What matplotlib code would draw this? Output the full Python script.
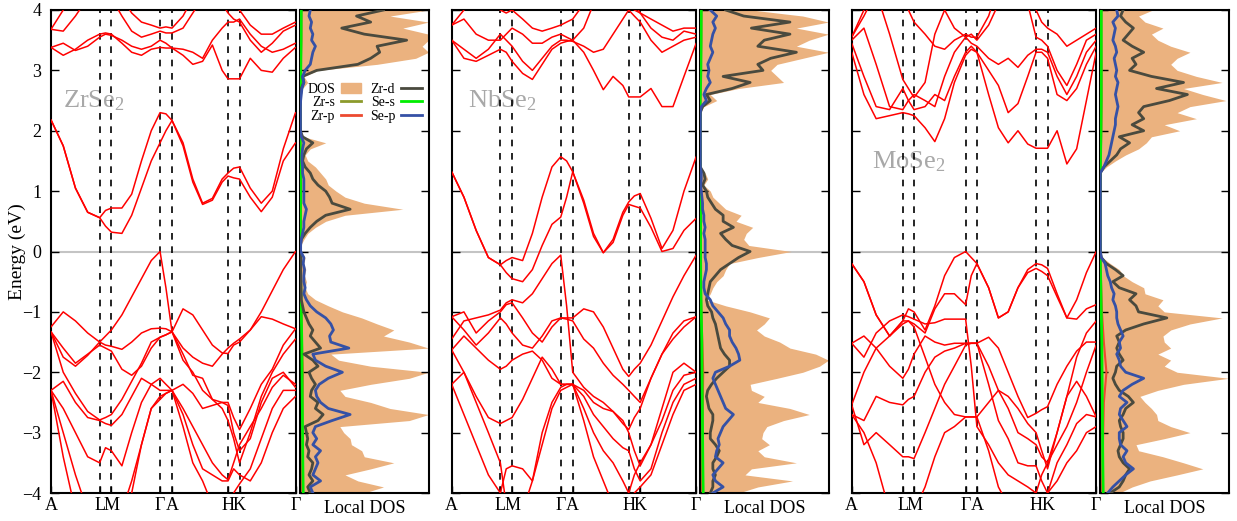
import numpy as np
import matplotlib
matplotlib.use("Agg")
import matplotlib.pyplot as plt
from matplotlib.patches import Patch
from matplotlib.lines import Line2D

plt.rcParams['font.family'] = ['Liberation Serif', 'DejaVu Serif']
plt.rcParams['mathtext.fontset'] = 'custom'
plt.rcParams['mathtext.rm'] = 'Liberation Serif'
plt.rcParams['mathtext.it'] = 'Liberation Serif'

# ---------------- k-path ----------------
k_labels = ['A', 'L', 'M', 'Γ', 'A', 'H', 'K', 'Γ']
k_nodes_zr = [0.0, 0.199, 0.247, 0.446, 0.495, 0.724, 0.771, 1.0]
k_nodes_mo = [0.0, 0.209, 0.255, 0.466, 0.512, 0.754, 0.801, 1.0]
k_grid_zr = [0.0, 0.05, 0.10, 0.15, 0.199, 0.223, 0.247, 0.29, 0.33, 0.37, 0.41, 0.446, 0.47, 0.495,
             0.54, 0.58, 0.62, 0.66, 0.70, 0.724, 0.747, 0.771, 0.815, 0.86, 0.905, 0.95, 1.0]
k_grid_mo = [0.0, 0.05, 0.10, 0.155, 0.209, 0.232, 0.255, 0.30, 0.34, 0.38, 0.42, 0.466, 0.489, 0.512,
             0.56, 0.60, 0.64, 0.68, 0.72, 0.754, 0.777, 0.801, 0.84, 0.88, 0.92, 0.96, 1.0]

# ---------------- ZrSe2 bands (eV) ----------------
zrse2_bands = [
    [3.38, 3.25, 3.35, 3.5, 3.6, 3.62, 3.6, 3.45, 3.3, 3.25, 3.35, 3.38, 3.37, 3.37, 3.25, 3.1, 3.15, 3.42, 3.0, 2.86, 2.86, 2.86, 3.2, 3.0, 2.97, 3.2, 3.38],
    [3.38, 3.45, 3.33, 3.4, 3.55, 3.6, 3.58, 3.5, 3.4, 3.35, 3.4, 3.5, 3.45, 3.37, 3.35, 3.3, 3.2, 3.5, 3.7, 3.8, 3.8, 3.85, 3.6, 3.4, 3.3, 3.35, 3.45],
    [3.68, 3.65, 3.9, 4.2, 4.3, 4.3, 4.2, 3.9, 3.65, 3.55, 3.6, 3.65, 3.62, 3.62, 3.7, 3.95, 4.2, 4.3, 4.1, 3.95, 3.85, 3.8, 3.5, 3.3, 3.45, 3.65, 3.75],
    [3.68, 4.0, 4.3, 4.5, 4.5, 4.5, 4.4, 4.2, 3.95, 3.8, 3.75, 3.7, 3.72, 3.7, 3.9, 4.2, 4.4, 4.3, 4.2, 4.1, 4.05, 4.0, 3.75, 3.6, 3.6, 3.7, 3.8],
    [2.18, 1.75, 1.05, 0.65, 0.56, 0.42, 0.32, 0.3, 0.6, 1.05, 1.5, 1.8, 2.0, 2.17, 1.75, 1.15, 0.78, 0.85, 1.15, 1.25, 1.22, 1.2, 0.9, 0.66, 0.9, 1.5, 1.8],
    [2.18, 1.75, 1.05, 0.65, 0.56, 0.68, 0.72, 0.72, 0.95, 1.5, 2.0, 2.3, 2.28, 2.17, 1.8, 1.2, 0.8, 0.88, 1.2, 1.3, 1.38, 1.4, 1.05, 0.8, 1.0, 1.7, 2.3],
    [-1.33, -1.75, -1.9, -1.72, -1.5, -1.4, -1.3, -1.05, -0.75, -0.45, -0.15, 0.0, -0.6, -1.33, -0.95, -1.05, -1.3, -1.55, -1.68, -1.69, -1.55, -1.5, -1.3, -1.0, -0.65, -0.3, 0.0],
    [-1.25, -1.0, -1.15, -1.35, -1.5, -1.55, -1.57, -1.62, -1.5, -1.35, -1.28, -1.27, -1.28, -1.33, -1.7, -2.05, -2.1, -2.45, -2.5, -2.5, -2.75, -2.95, -2.6, -2.2, -1.95, -1.55, -1.28],
    [-1.33, -2.0, -2.35, -2.65, -2.79, -2.75, -2.7, -2.45, -2.15, -1.85, -1.5, -1.42, -1.38, -1.33, -1.6, -1.75, -1.85, -1.9, -1.7, -1.6, -1.52, -1.45, -1.3, -1.08, -1.12, -1.2, -1.28],
    [-2.3, -2.15, -2.5, -2.75, -2.8, -2.85, -2.88, -2.7, -2.4, -2.1, -2.2, -2.3, -2.3, -2.3, -2.6, -2.9, -3.2, -3.5, -3.7, -3.78, -3.5, -3.2, -2.9, -2.6, -2.25, -2.05, -2.2],
    [-2.3, -2.6, -3.0, -3.4, -3.5, -3.25, -3.3, -3.55, -3.0, -2.5, -2.2, -2.1, -2.2, -2.3, -2.2, -2.35, -2.6, -2.55, -2.5, -2.55, -3.0, -3.3, -3.1, -2.5, -2.1, -2.0, -2.25],
    [-2.3, -3.4, -4.3, -4.6, -4.7, -4.7, -4.6, -4.5, -4.0, -3.2, -2.6, -2.45, -2.35, -2.3, -2.9, -3.5, -3.8, -4.2, -4.3, -4.2, -4.0, -3.85, -3.6, -3.1, -2.6, -2.3, -2.3],
    [-1.33, -1.6, -1.85, -1.7, -1.55, -1.6, -1.65, -1.95, -2.05, -1.9, -1.6, -1.42, -1.38, -1.33, -1.8, -2.0, -2.3, -2.45, -2.6, -2.8, -3.1, -3.5, -3.0, -2.4, -2.0, -1.7, -1.45],
    [-2.3, -3.0, -3.7, -4.3, -4.6, -4.6, -4.5, -4.3, -3.8, -3.2, -2.6, -2.4, -2.35, -2.3, -2.7, -3.2, -3.6, -3.7, -3.8, -3.8, -3.6, -3.7, -3.8, -3.5, -3.0, -2.6, -2.4],
]

# ---------------- NbSe2 bands (eV) ----------------
nbse2_bands = [
    [3.5, 3.2, 3.15, 3.25, 3.35, 3.3, 3.15, 2.95, 2.85, 3.1, 3.35, 3.45, 3.48, 3.5, 3.3, 3.0, 2.68, 2.9, 2.75, 2.56, 2.56, 2.56, 2.7, 2.4, 2.4, 2.9, 3.45],
    [3.5, 3.35, 3.2, 3.35, 3.6, 3.5, 3.4, 3.15, 3.0, 3.2, 3.4, 3.5, 3.5, 3.48, 3.4, 3.3, 3.35, 3.6, 3.85, 4.0, 3.9, 3.8, 3.5, 3.3, 3.4, 3.5, 3.55],
    [3.75, 3.85, 3.6, 3.5, 3.5, 3.6, 3.7, 3.6, 3.45, 3.45, 3.55, 3.6, 3.55, 3.5, 3.7, 4.1, 4.3, 4.4, 4.3, 4.2, 4.1, 3.95, 3.7, 3.55, 3.5, 3.65, 3.6],
    [3.75, 4.0, 4.3, 4.2, 4.0, 3.95, 4.0, 3.85, 3.7, 3.65, 3.7, 3.75, 3.8, 3.85, 4.1, 4.4, 4.5, 4.5, 4.3, 4.1, 4.0, 3.95, 3.85, 3.75, 3.65, 3.7, 3.7],
    [1.32, 0.9, 0.35, -0.1, -0.22, -0.35, -0.45, -0.5, -0.3, 0.1, 0.45, 0.57, 0.9, 1.32, 0.8, 0.25, -0.02, 0.15, 0.6, 0.78, 0.75, 0.72, 0.4, 0.0, 0.05, 0.35, 0.55],
    [1.32, 0.9, 0.35, -0.1, -0.22, -0.15, -0.1, -0.15, 0.3, 0.9, 1.4, 1.57, 1.5, 1.32, 0.85, 0.3, -0.02, 0.2, 0.65, 0.82, 0.92, 0.96, 0.55, 0.05, 0.35, 1.0, 1.57],
    [-1.45, -1.15, -1.1, -1.05, -0.97, -0.85, -0.8, -0.85, -0.7, -0.45, -0.2, -0.06, -0.9, -2.0, -2.25, -2.4, -2.5, -2.65, -2.85, -2.95, -2.75, -2.6, -2.1, -1.7, -1.45, -1.25, -1.08],
    [-1.08, -1.0, -1.35, -1.15, -1.0, -0.88, -0.85, -1.1, -1.35, -1.5, -1.25, -1.1, -1.1, -1.1, -0.95, -1.0, -1.25, -1.6, -1.95, -2.07, -1.95, -1.85, -1.55, -1.15, -0.75, -0.4, -0.06],
    [-1.08, -1.3, -1.55, -1.35, -1.1, -1.2, -1.35, -1.55, -1.6, -1.4, -1.15, -1.1, -1.12, -1.15, -1.45, -1.6, -1.85, -2.05, -2.2, -2.3, -2.4, -2.5, -2.1, -1.7, -1.35, -1.15, -1.08],
    [-1.63, -1.4, -1.6, -1.8, -1.95, -1.9, -1.8, -1.7, -1.65, -1.8, -2.1, -2.2, -2.2, -2.2, -2.3, -2.5, -2.6, -2.65, -2.8, -3.0, -3.3, -3.55, -3.2, -2.6, -2.0, -1.85, -2.0],
    [-2.2, -2.0, -2.4, -2.75, -2.85, -2.8, -2.75, -2.45, -2.1, -1.75, -1.95, -2.2, -2.2, -2.2, -2.6, -3.0, -3.3, -3.5, -3.8, -4.0, -3.7, -3.5, -3.2, -2.8, -2.3, -2.05, -2.0],
    [-2.2, -2.7, -3.2, -3.7, -4.0, -3.6, -3.55, -3.6, -3.8, -3.0, -2.5, -2.25, -2.2, -2.2, -2.4, -2.7, -2.9, -3.1, -3.25, -3.3, -3.6, -3.8, -3.6, -3.0, -2.5, -2.2, -2.1],
    [-1.63, -2.0, -2.5, -3.0, -3.5, -4.2, -4.4, -4.3, -3.8, -3.2, -2.6, -2.3, -2.25, -2.2, -2.8, -3.4, -3.8, -4.2, -4.3, -4.2, -4.0, -3.9, -3.7, -3.2, -2.7, -2.3, -2.2],
]

# ---------------- MoSe2 bands (eV) ----------------
mose2_bands = [
    [3.3, 2.6, 2.2, 2.25, 2.3, 2.28, 2.25, 2.05, 1.82, 2.2, 2.8, 3.25, 3.35, 3.3, 2.6, 2.05, 1.8, 2.0, 1.78, 1.71, 1.71, 1.71, 2.0, 1.45, 1.7, 2.5, 3.3],
    [3.45, 2.9, 2.4, 2.35, 2.7, 2.5, 2.35, 2.4, 2.6, 2.5, 2.9, 3.3, 3.4, 3.3, 3.0, 2.75, 2.3, 2.45, 2.9, 3.3, 3.3, 3.2, 2.6, 2.5, 2.7, 3.1, 3.4],
    [3.5, 3.7, 3.1, 2.4, 2.35, 2.5, 2.6, 2.5, 2.4, 2.9, 3.3, 3.55, 3.45, 3.4, 3.2, 3.1, 3.2, 3.05, 3.25, 3.35, 3.35, 3.3, 2.9, 2.6, 2.9, 3.3, 3.5],
    [3.55, 3.9, 4.3, 3.6, 2.85, 2.7, 2.55, 2.8, 3.6, 4.0, 3.7, 3.55, 3.6, 3.5, 3.75, 4.1, 4.3, 4.4, 4.1, 3.55, 3.5, 3.4, 3.0, 2.75, 3.1, 3.5, 3.6],
    [3.55, 4.0, 4.5, 4.5, 4.3, 4.0, 3.8, 3.6, 3.4, 3.35, 3.5, 3.6, 3.55, 3.55, 3.9, 4.4, 4.6, 4.6, 4.4, 4.0, 3.8, 3.7, 3.6, 3.4, 3.5, 3.6, 3.7],
    [-0.2, -0.5, -1.05, -1.4, -1.15, -0.95, -1.0, -1.3, -0.9, -0.4, -0.1, 0.0, -0.1, -0.2, -0.6, -1.1, -1.0, -0.6, -0.3, -0.2, -0.22, -0.28, -0.7, -1.1, -0.8, -0.35, 0.0],
    [-0.2, -0.5, -1.05, -1.4, -1.2, -1.15, -1.2, -1.35, -0.95, -0.7, -0.7, -0.88, -0.4, -0.2, -0.6, -1.1, -1.0, -0.6, -0.35, -0.28, -0.33, -0.4, -0.75, -1.1, -1.12, -0.95, -0.88],
    [-1.52, -1.75, -1.35, -1.15, -1.05, -1.08, -1.12, -1.2, -1.18, -1.12, -1.12, -1.12, -1.9, -2.9, -3.2, -3.5, -3.7, -3.8, -3.9, -4.0, -3.7, -3.5, -3.0, -2.4, -1.75, -1.35, -1.15],
    [-1.52, -1.4, -1.6, -1.9, -2.1, -1.95, -1.7, -1.4, -1.5, -1.55, -1.52, -1.52, -1.52, -1.52, -1.42, -1.6, -2.0, -2.4, -2.75, -2.68, -2.62, -2.57, -2.2, -1.9, -1.65, -1.5, -1.5],
    [-2.54, -2.0, -1.6, -1.4, -1.15, -1.15, -1.25, -1.75, -2.2, -2.5, -2.7, -2.74, -2.74, -2.74, -2.5, -2.3, -2.4, -2.6, -2.85, -3.0, -3.3, -3.6, -3.0, -2.4, -2.15, -2.4, -2.74],
    [-2.7, -2.8, -2.4, -2.5, -2.54, -2.45, -2.4, -2.0, -1.75, -1.65, -1.6, -1.52, -1.52, -1.52, -2.2, -2.8, -3.1, -3.5, -3.55, -3.55, -3.8, -4.0, -3.5, -3.2, -2.85, -2.7, -2.74],
    [-2.7, -3.0, -3.5, -4.3, -4.6, -4.5, -4.3, -3.9, -3.4, -3.0, -2.9, -2.74, -2.74, -2.74, -3.3, -3.9, -4.2, -4.3, -4.3, -4.2, -4.1, -4.0, -3.8, -3.5, -3.3, -3.0, -2.9],
    [-2.54, -3.2, -3.0, -3.2, -3.4, -3.4, -3.43, -3.0, -2.6, -2.2, -1.9, -1.55, -1.52, -1.52, -1.9, -2.3, -2.6, -3.0, -3.1, -3.2, -3.4, -3.5, -3.2, -2.9, -2.5, -2.0, -1.55],
]

# ---------------- DOS (energy grid -4..4 eV, 0.1 eV step) ----------------
dos_energy = np.linspace(-4.0, 4.0, 81)

zrse2_dos_total = [5.0, 6.5, 4.5, 3.5, 5.5, 7.3, 5.0, 4.8, 4.0, 3.9,
                   3.4, 3.1, 8.5, 10, 7.0, 5.5, 3.5, 3.1, 5.5, 8.5,
                   10, 5.5, 3.0, 2.4, 10, 8.5, 6.5, 7.3, 6.0, 4.8,
                   3.3, 2.2, 1.2, 0.6, 0.4, 0.5, 0.35, 0.45, 0.3, 0.4,
                   0.05,
                   0.05, 0.3, 0.6, 1.2, 2.0, 3.5, 8.0, 5.0, 3.5, 2.8,
                   2.2, 2.0, 1.6, 1.2, 0.6, 0.4, 0.8, 2.0, 0.3, 0.05,
                   0.03, 0.03, 0.03, 0.03, 0.05, 0.1, 0.2, 0.6, 0.3, 1.4,
                   6.0, 9.0, 10, 9.5, 10, 10, 8.0, 10, 7.0, 10]
zrse2_dos_d = [0.8, 0.6, 1.0, 0.7, 0.9, 1.0, 0.6, 0.7, 0.5, 0.6,
               0.5, 0.4, 1.4, 1.8, 1.2, 1.4, 0.8, 0.9, 1.2, 0.9,
               0.7, 1.4, 1.0, 0.3, 1.6, 1.2, 0.8, 1.0, 0.7, 0.5,
               0.3, 0.2, 0.1, 0.1, 0.08, 0.08, 0.06, 0.06, 0.05, 0.05,
               0.02,
               0.02, 0.1, 0.4, 0.8, 1.3, 2.0, 3.9, 2.5, 2.3, 2.0,
               1.4, 1.0, 0.8, 0.4, 0.2, 0.3, 0.5, 1.0, 0.2, 0.03,
               0.02, 0.02, 0.02, 0.02, 0.03, 0.05, 0.1, 0.3, 0.2, 1.3,
               4.5, 5.5, 6.2, 6.0, 8.3, 5.0, 3.25, 5.5, 4.4, 6.5]
zrse2_dos_p = [1.0, 0.8, 1.6, 1.0, 1.2, 1.4, 1.2, 1.6, 1.0, 1.3,
               1.0, 1.2, 2.5, 3.9, 2.2, 1.6, 1.3, 1.2, 1.5, 2.2,
               3.3, 2.0, 1.2, 1.0, 3.8, 2.4, 2.3, 2.6, 2.4, 2.0,
               1.3, 0.8, 0.5, 0.3, 0.4, 0.3, 0.3, 0.35, 0.25, 0.3,
               0.05,
               0.05, 0.1, 0.2, 0.3, 0.3, 0.4, 0.5, 0.3, 0.3, 0.3,
               0.3, 0.3, 0.2, 0.2, 0.15, 0.15, 0.2, 0.3, 0.1, 0.03,
               0.03, 0.03, 0.03, 0.03, 0.05, 0.1, 0.15, 0.3, 0.2, 0.4,
               0.8, 0.9, 1.0, 1.2, 0.9, 1.0, 0.8, 0.9, 0.7, 0.8]

nbse2_dos_total = [3.0, 4.5, 7.2, 3.5, 4.0, 7.5, 5.0, 4.5, 5.4, 4.8,
                   4.9, 5.2, 6.5, 8.5, 7.0, 4.5, 5.0, 4.0, 3.9, 6.0,
                   8.0, 9.3, 10, 9.0, 7.0, 6.2, 5.0, 4.4, 5.0, 5.4,
                   3.9, 2.0, 0.5, 0.8, 1.0, 1.3, 1.8, 2.0, 2.3, 4.5,
                   7.1,
                   3.8, 3.4, 3.6, 4.1, 2.8, 3.2, 2.0, 1.5, 1.0, 0.8,
                   0.3, 0.6, 0.4, 0.02, 0.02, 0.02, 0.02, 0.02, 0.02, 0.02,
                   0.02, 0.02, 0.02, 0.3, 1.3, 0.8, 3.0, 6.5, 6.0, 5.5,
                   6.0, 8.0, 10, 7.5, 8.5, 10, 7.5, 10, 8.0, 4.0]
nbse2_dos_d = [0.8, 1.0, 1.0, 1.2, 1.0, 1.0, 1.3, 1.5, 1.2, 0.8,
               0.8, 0.9, 1.0, 1.0, 0.7, 0.6, 0.5, 0.6, 0.9, 1.3,
               1.8, 2.3, 2.3, 1.9, 1.6, 1.5, 1.4, 1.3, 1.2, 1.0,
               0.9, 0.6, 0.5, 0.6, 0.7, 0.8, 1.2, 1.6, 2.3, 3.0,
               3.9,
               2.5, 2.0, 1.6, 2.6, 1.8, 1.8, 1.2, 0.9, 0.6, 0.5,
               0.2, 0.4, 0.3, 0.02, 0.02, 0.02, 0.02, 0.02, 0.02, 0.02,
               0.02, 0.02, 0.02, 0.2, 0.8, 0.5, 2.5, 3.9, 1.8, 4.9,
               4.5, 5.5, 7.5, 4.5, 5.0, 7.0, 4.0, 7.0, 3.4, 2.0]
nbse2_dos_p = [1.0, 1.8, 1.2, 1.0, 1.4, 1.8, 1.2, 1.3, 1.5, 1.4,
               1.6, 1.8, 2.2, 2.6, 2.0, 1.8, 1.6, 1.4, 1.2, 1.0,
               1.2, 2.3, 3.1, 3.0, 2.8, 2.5, 2.3, 2.3, 2.0, 1.8,
               1.4, 1.0, 0.8, 0.4, 0.3, 0.3, 0.4, 0.5, 0.5, 0.4,
               0.4,
               0.4, 0.4, 0.3, 0.4, 0.3, 0.3, 0.2, 0.2, 0.15, 0.1,
               0.05, 0.1, 0.1, 0.02, 0.02, 0.02, 0.02, 0.02, 0.02, 0.02,
               0.02, 0.02, 0.02, 0.1, 0.5, 0.3, 0.5, 0.8, 0.6, 0.7,
               0.6, 0.8, 1.0, 0.8, 0.9, 1.0, 1.2, 1.0, 1.3, 0.8]

mose2_dos_total = [1.5, 2.5, 3.9, 6.0, 8.0, 6.5, 4.9, 3.0, 2.8, 5.0,
                   7.0, 5.5, 4.5, 4.4, 4.0, 3.5, 3.1, 4.5, 6.5, 10,
                   6.0, 5.0, 5.5, 4.5, 5.5, 5.0, 4.9, 5.5, 7.0, 9.5,
                   5.0, 4.5, 4.9, 3.5, 3.4, 2.5, 1.8, 1.5, 0.8, 0.2,
                   0.02,
                   0.02, 0.02, 0.02, 0.02, 0.02, 0.02, 0.02, 0.02, 0.02, 0.02,
                   0.02, 0.02, 0.02, 0.5, 1.2, 2.0, 3.0, 3.6, 4.0, 6.2,
                   5.0, 7.5, 6.0, 7.0, 9.8, 8.0, 6.5, 9.5, 7.5, 6.0,
                   5.5, 6.0, 7.0, 5.5, 4.5, 4.0, 4.9, 3.5, 3.0, 4.1]
mose2_dos_d = [0.8, 1.5, 1.8, 2.0, 2.3, 1.8, 1.5, 1.4, 1.6, 1.8,
               1.8, 1.6, 1.5, 1.8, 2.0, 2.6, 2.2, 1.5, 1.2, 1.0,
               1.2, 1.3, 1.8, 1.5, 1.3, 1.5, 1.3, 2.0, 3.4, 5.2,
               3.0, 2.8, 2.3, 2.8, 1.5, 1.0, 1.8, 1.2, 0.5, 0.1,
               0.02,
               0.02, 0.02, 0.02, 0.02, 0.02, 0.02, 0.02, 0.02, 0.02, 0.02,
               0.02, 0.02, 0.02, 0.3, 0.8, 1.3, 1.6, 2.3, 1.5, 3.4,
               2.5, 3.4, 3.0, 3.4, 5.4, 6.8, 4.4, 6.5, 4.0, 2.3,
               2.8, 2.5, 3.4, 2.5, 1.8, 2.2, 2.6, 2.0, 1.6, 1.8]
mose2_dos_p = [0.6, 1.0, 1.5, 2.0, 2.6, 2.0, 1.8, 2.1, 1.6, 1.5,
               1.5, 2.1, 1.8, 1.5, 1.6, 2.1, 1.5, 1.8, 2.5, 3.4,
               2.0, 1.6, 1.5, 1.3, 1.6, 1.5, 1.8, 1.6, 1.4, 1.3,
               1.3, 1.2, 1.0, 1.1, 0.9, 0.8, 0.6, 0.5, 0.4, 0.1,
               0.02,
               0.02, 0.02, 0.02, 0.02, 0.02, 0.02, 0.02, 0.02, 0.02, 0.02,
               0.02, 0.02, 0.02, 0.3, 0.5, 0.7, 0.8, 0.9, 1.0, 1.1,
               1.2, 1.2, 1.3, 1.4, 1.3, 1.2, 1.3, 1.4, 1.2, 1.3,
               1.2, 1.1, 1.3, 1.2, 1.0, 1.1, 1.2, 1.0, 1.4, 1.3]

# minor projections on a coarse grid (-4..4 eV, 0.5 eV step)
minor_energy = [-4.0, -3.5, -3.0, -2.5, -2.0, -1.5, -1.0, -0.5, 0.0, 0.5, 1.0, 1.5, 2.0, 2.5, 3.0, 3.5, 4.0]
zrse2_metal_s = [0.05, 0.05, 0.06, 0.06, 0.06, 0.05, 0.04, 0.02, 0.01, 0.02, 0.03, 0.02, 0.01, 0.01, 0.03, 0.05, 0.05]
zrse2_metal_p = [0.12, 0.15, 0.18, 0.2, 0.22, 0.15, 0.1, 0.04, 0.01, 0.05, 0.08, 0.04, 0.01, 0.01, 0.05, 0.1, 0.1]
zrse2_se_s = [0.25, 0.22, 0.2, 0.18, 0.16, 0.14, 0.1, 0.05, 0.02, 0.04, 0.05, 0.03, 0.01, 0.01, 0.06, 0.09, 0.1]
nbse2_metal_s = [0.05, 0.05, 0.06, 0.06, 0.06, 0.05, 0.04, 0.03, 0.03, 0.03, 0.02, 0.01, 0.01, 0.01, 0.03, 0.05, 0.05]
nbse2_metal_p = [0.12, 0.15, 0.2, 0.22, 0.25, 0.18, 0.1, 0.06, 0.05, 0.05, 0.04, 0.01, 0.01, 0.02, 0.06, 0.1, 0.1]
nbse2_se_s = [0.25, 0.22, 0.2, 0.18, 0.16, 0.14, 0.1, 0.06, 0.05, 0.05, 0.04, 0.01, 0.01, 0.02, 0.07, 0.09, 0.1]
mose2_metal_s = [0.05, 0.05, 0.06, 0.06, 0.07, 0.05, 0.04, 0.03, 0.01, 0.01, 0.01, 0.02, 0.04, 0.05, 0.05, 0.05, 0.05]
mose2_metal_p = [0.15, 0.2, 0.25, 0.3, 0.5, 0.3, 0.15, 0.08, 0.01, 0.01, 0.01, 0.05, 0.1, 0.12, 0.12, 0.1, 0.1]
mose2_se_s = [0.25, 0.22, 0.2, 0.18, 0.16, 0.14, 0.1, 0.06, 0.01, 0.01, 0.01, 0.04, 0.08, 0.1, 0.1, 0.1, 0.1]

compounds = ['ZrSe$_2$', 'NbSe$_2$', 'MoSe$_2$']
name_xy = [(0.05, 2.5), (0.067, 2.5), (0.082, 1.48)]

legend_labels = ['DOS', 'Zr-s', 'Zr-p', 'Zr-d', 'Se-s', 'Se-p']

# ---------------- styles ----------------
C_BAND = '#ff0000'
C_FILL = '#ebb27f'
C_D = '#4a4a3e'
C_P = '#3551a6'
C_SES = '#00ee00'
C_MS = '#8c9a2c'
C_MP = '#ec4a30'
C_FERMI = '#c4c4c4'

W, H = 1237, 521
fig = plt.figure(figsize=(W / 100, H / 100), dpi=100)

y0 = 1 - 493 / H
hgt = 483 / H
band_x = [51, 451.7, 851.7]
dos_x = [300, 700, 1100]
band_w = 244.5
dos_w = 128.5

panel_bands = [zrse2_bands, nbse2_bands, mose2_bands]
panel_kgrid = [k_grid_zr, k_grid_zr, k_grid_mo]
panel_knodes = [k_nodes_zr, k_nodes_zr, k_nodes_mo]
panel_total = [zrse2_dos_total, nbse2_dos_total, mose2_dos_total]
panel_d = [zrse2_dos_d, nbse2_dos_d, mose2_dos_d]
panel_p = [zrse2_dos_p, nbse2_dos_p, mose2_dos_p]
panel_ms = [zrse2_metal_s, nbse2_metal_s, mose2_metal_s]
panel_mp = [zrse2_metal_p, nbse2_metal_p, mose2_metal_p]
panel_ses = [zrse2_se_s, nbse2_se_s, mose2_se_s]

for i in range(3):
    axb = fig.add_axes([band_x[i] / W, y0, band_w / W, hgt])
    axd = fig.add_axes([dos_x[i] / W, y0, dos_w / W, hgt])

    # --- band structure ---
    kg = panel_kgrid[i]
    for band in panel_bands[i]:
        axb.plot(kg, band, color=C_BAND, lw=1.1, zorder=3,
                 solid_joinstyle='round', solid_capstyle='round')
    for kn in panel_knodes[i][1:-1]:
        axb.axvline(kn, color='black', lw=1.2, ls=(0, (4, 4)), zorder=2)
    axb.axhline(0, color=C_FERMI, lw=1.5, zorder=1)
    axb.text(name_xy[i][0], name_xy[i][1], compounds[i], fontsize=19, color='#a8a8a8',
             va='center', ha='left', zorder=1)
    axb.set_xlim(0, 1)
    axb.set_ylim(-4, 4)
    axb.set_xticks(panel_knodes[i])
    axb.set_xticklabels(k_labels, fontsize=13)
    axb.set_yticks(range(-4, 5))
    axb.tick_params(axis='x', direction='in', length=5, width=1, pad=3)
    axb.tick_params(axis='y', direction='in', length=6, width=1, left=True, right=True, pad=7,
                    labelsize=13)
    if i == 0:
        axb.set_ylabel('Energy (eV)', fontsize=14, va='center')
        axb.yaxis.set_label_coords(-34 / band_w, 0.5)
    else:
        axb.set_yticklabels([])
    for s in axb.spines.values():
        s.set_linewidth(1.5)

    # --- local DOS ---
    axd.fill_betweenx(dos_energy, 0, panel_total[i], color=C_FILL, lw=0, zorder=1)
    axd.plot(panel_ms[i], minor_energy, color=C_MS, lw=1.5, zorder=2)
    axd.plot(panel_mp[i], minor_energy, color=C_MP, lw=1.5, zorder=2)
    axd.plot(panel_ses[i], minor_energy, color=C_SES, lw=2.0, zorder=3)
    axd.plot(panel_d[i], dos_energy, color=C_D, lw=2.0, zorder=4, solid_joinstyle='round')
    axd.plot(panel_p[i], dos_energy, color=C_P, lw=2.0, zorder=5, solid_joinstyle='round')
    axd.axhline(0, color=C_FERMI, lw=1.5, zorder=0)
    axd.set_xlim(0, 10)
    axd.set_ylim(-4, 4)
    axd.set_xticks([])
    axd.set_yticks(range(-4, 5))
    axd.set_yticklabels([])
    axd.tick_params(axis='y', direction='in', length=6, width=1, left=True, right=True)
    axd.set_xlabel('Local DOS', fontsize=13, labelpad=5)
    for s in axd.spines.values():
        s.set_linewidth(1.5)

    if i == 0:
        handles = [Patch(color=C_FILL),
                   Line2D([], [], color=C_MS, lw=2),
                   Line2D([], [], color=C_MP, lw=2),
                   Line2D([], [], color=C_D, lw=2),
                   Line2D([], [], color=C_SES, lw=2),
                   Line2D([], [], color=C_P, lw=2)]
        axd.legend(handles, legend_labels, ncol=2, markerfirst=False, frameon=False,
                   fontsize=10, loc='upper left', bbox_to_anchor=(-0.02, 0.87),
                   handlelength=1.5, handletextpad=0.4, columnspacing=0.6,
                   labelspacing=0.05, borderpad=0.2)

fig.savefig('out.png', dpi=100)
